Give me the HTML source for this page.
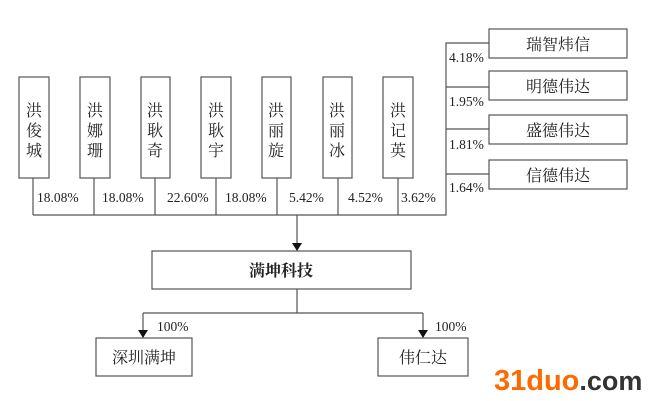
<!DOCTYPE html>
<html><head><meta charset="utf-8"><style>
html,body{margin:0;padding:0;background:#fff;}
svg{display:block;}
text{font-family:"Liberation Serif","Noto Serif CJK SC",serif;fill:#222;}
.c{font-family:"Liberation Serif","Noto Serif CJK SC","Noto Sans CJK SC",serif;}
</style></head><body>
<svg width="657" height="401" viewBox="0 0 657 401" xmlns="http://www.w3.org/2000/svg">
<g fill="#fff" stroke="#555" stroke-width="1.2">
<rect x="19" y="77" width="30" height="101"/>
<rect x="80" y="77" width="30" height="101"/>
<rect x="141" y="77" width="29" height="101"/>
<rect x="201" y="77" width="30" height="101"/>
<rect x="262" y="77" width="29" height="101"/>
<rect x="323" y="77" width="29" height="101"/>
<rect x="383" y="77" width="30" height="101"/>
<rect x="489" y="29" width="138" height="29"/>
<rect x="489" y="71" width="138" height="29"/>
<rect x="489" y="115" width="138" height="29"/>
<rect x="489" y="160" width="138" height="29"/>
<rect x="152" y="251" width="259" height="38"/>
<rect x="96" y="338" width="96" height="38"/>
<rect x="378" y="338" width="90" height="38"/>
</g>
<g stroke="#555" stroke-width="1.2" fill="none">
<path d="M33 178V215M94 178V215M155 178V215M216 178V215M277 178V215M338 178V215M398 178V215"/>
<path d="M33 215H446V43H489M446 87H489M446 129H489M446 174H489"/>
<path d="M297 215V244M297 289V313M143 313H423M143 313V331M423 313V331"/>
</g>
<g fill="#111">
<path d="M292 243L302 243L297 251Z"/>
<path d="M138 330L148 330L143 338Z"/>
<path d="M418 330L428 330L423 338Z"/>
</g>
<g class="c" font-size="16" text-anchor="middle">
<text x="34" y="116">洪</text><text x="34" y="136">俊</text><text x="34" y="156">城</text>
<text x="95" y="116">洪</text><text x="95" y="136">娜</text><text x="95" y="156">珊</text>
<text x="155" y="116">洪</text><text x="155" y="136">耿</text><text x="155" y="156">奇</text>
<text x="216" y="116">洪</text><text x="216" y="136">耿</text><text x="216" y="156">宇</text>
<text x="276" y="116">洪</text><text x="276" y="136">丽</text><text x="276" y="156">旋</text>
<text x="337" y="116">洪</text><text x="337" y="136">丽</text><text x="337" y="156">冰</text>
<text x="398" y="116">洪</text><text x="398" y="136">记</text><text x="398" y="156">英</text>
<text x="558" y="50">瑞智炜信</text>
<text x="558" y="92">明德伟达</text>
<text x="558" y="136">盛德伟达</text>
<text x="558" y="181">信德伟达</text>
<text x="281" y="276" font-weight="bold">满坤科技</text>
<text x="144" y="363">深圳满坤</text>
<text x="423" y="363">伟仁达</text>
</g>
<g font-size="13.5">
<text x="37" y="202">18.08%</text>
<text x="102" y="202">18.08%</text>
<text x="167" y="202">22.60%</text>
<text x="225" y="202">18.08%</text>
<text x="289" y="202">5.42%</text>
<text x="348" y="202">4.52%</text>
<text x="401" y="202">3.62%</text>
<text x="449" y="62">4.18%</text>
<text x="449" y="106">1.95%</text>
<text x="449" y="149">1.81%</text>
<text x="449" y="192">1.64%</text>
<text x="157" y="331">100%</text>
<text x="435" y="331">100%</text>
</g>
<text x="494" y="390" style="font-family:'Liberation Sans',sans-serif;font-weight:bold;font-size:29px;fill:#ff6a00;">31duo<tspan style="fill:#333;font-size:27px;">.com</tspan></text>
</svg>
</body></html>
